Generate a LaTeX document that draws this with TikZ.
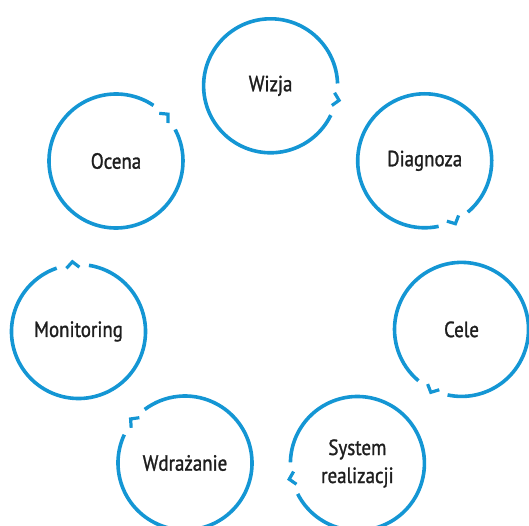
\documentclass[tikz,border=0pt]{standalone}
\usepackage{fontspec}
\setmainfont{PT Sans}[FakeStretch=0.86, FakeBold=1.2]
\usetikzlibrary{calc}

\definecolor{cycleblue}{RGB}{20,150,212}
\definecolor{labelgray}{RGB}{30,30,30}

\tikzset{
  stage/.style={circle, minimum size=134pt, inner sep=0pt, align=center, text=labelgray, font=\fontsize{22}{28}\selectfont},
  ring/.style={draw=cycleblue, line width=3.6pt},
  chevron/.style={draw=cycleblue, line width=3.2pt, line join=miter},
}

\begin{document}
\begin{tikzpicture}[x=1pt, y=1pt]
    \useasboundingbox (0,0) rectangle (529,525);

    \node[stage] (wizja) at (270.6,439.2) {Wizja};

    \node[stage] (diagnoza) at (424.7,364.2) {Diagnoza};

    \node[stage] (cele) at (461.5,195.6) {Cele};

    \node[stage] (system) at (357.4,61.5) {System\\realizacji};

    \node[stage] (wdrazanie) at (185,62) {Wdrażanie};

    \node[stage] (monitoring) at (78.5,193.5) {Monitoring};

    \node[stage] (ocena) at (116,364) {Ocena};

    % ring with a gap and a chevron pointing to the next stage
    \foreach \n/\a in {wizja/-12, diagnoza/-64, cele/-116, system/-167, wdrazanie/-219, monitoring/-265, ocena/42}{
      \draw[ring, shift={(\n.center)}] ({\a+14}:67pt) arc[start angle=\a+14, end angle=\a+346, radius=67pt];
      \draw[chevron, shift={(\n.center)}, rotate=\a] (64,6.5) -- (70,0) -- (64,-6.5);
    }

  \end{tikzpicture}
\end{document}
